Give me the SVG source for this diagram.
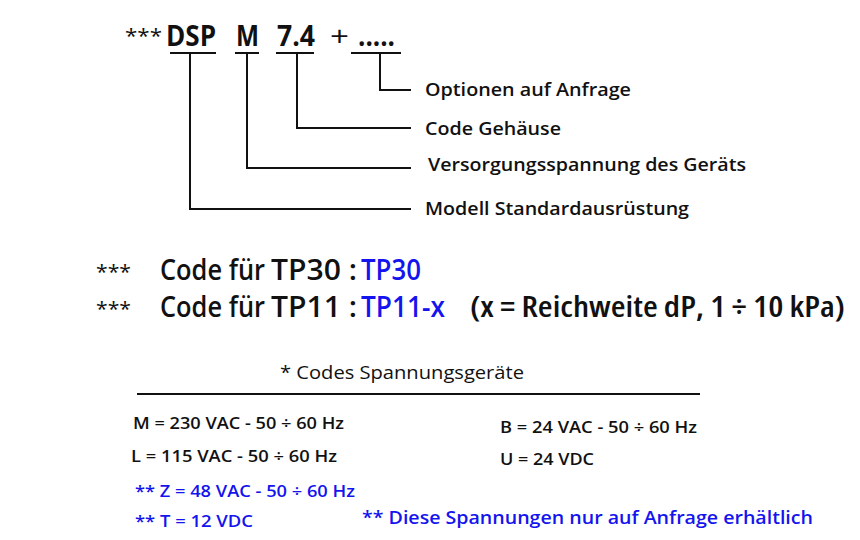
<svg xmlns="http://www.w3.org/2000/svg" width="860" height="540" viewBox="0 0 860 540">
<style>
text{font-family:"Open Sans","Liberation Sans",Arial,sans-serif;fill:#111}
.code{font-size:28px;font-weight:700}
.lbl{font-size:18px;font-weight:600}
.mid{font-size:28px;font-weight:600}
.row{font-size:17px;font-weight:600}
.ast{font-weight:400}
.cond{font-stretch:condensed}
.blue{fill:#1414ee}
.ln{stroke:#111;stroke-width:2;fill:none}
</style>
<rect width="860" height="540" fill="#fff"/>
<g id="code-string">
<text class="ast" x="125" y="43" style="font-size:20px" textLength="37" lengthAdjust="spacingAndGlyphs">***</text>
<text class="code" x="166" y="46" textLength="50" lengthAdjust="spacingAndGlyphs">DSP</text>
<text class="code" x="236" y="46" textLength="23" lengthAdjust="spacingAndGlyphs">M</text>
<text class="code" x="277" y="46" textLength="38" lengthAdjust="spacingAndGlyphs">7.4</text>
<text class="code" x="330" y="46" style="font-weight:400" textLength="19" lengthAdjust="spacingAndGlyphs">+</text>
<text class="code" x="358" y="46" textLength="37" lengthAdjust="spacingAndGlyphs">.....</text>
</g>
<g id="connectors" class="ln">
<line x1="170" y1="53" x2="216" y2="53"/>
<line x1="235" y1="53" x2="259" y2="53"/>
<line x1="276" y1="53" x2="314" y2="53"/>
<line x1="351" y1="53" x2="401" y2="53"/>
<polyline points="380,53 380,90 411,90"/>
<polyline points="297,53 297,128 411,128"/>
<polyline points="247,53 247,168 411,168"/>
<polyline points="190,53 190,209 411,209"/>
</g>
<g id="label-optionen"><text class="lbl" x="425" y="96" textLength="206" lengthAdjust="spacingAndGlyphs">Optionen auf Anfrage</text></g>
<g id="label-gehaeuse"><text class="lbl" x="425" y="135" textLength="136" lengthAdjust="spacingAndGlyphs">Code Gehäuse</text></g>
<g id="label-versorgung"><text class="lbl" x="428" y="171" textLength="318" lengthAdjust="spacingAndGlyphs">Versorgungsspannung des Geräts</text></g>
<g id="label-modell"><text class="lbl" x="425" y="215" textLength="264" lengthAdjust="spacingAndGlyphs">Modell Standardausrüstung</text></g>
<g id="tp30">
<text class="ast" x="96" y="279" style="font-size:20px" textLength="35" lengthAdjust="spacingAndGlyphs">***</text>
<text class="mid" x="160" y="280" textLength="105" lengthAdjust="spacingAndGlyphs">Code für</text>
<text class="mid" x="271" y="280" textLength="86" lengthAdjust="spacingAndGlyphs">TP30 :</text>
<text class="mid blue" x="361" y="280" textLength="60" lengthAdjust="spacingAndGlyphs">TP30</text>
</g>
<g id="tp11">
<text class="ast" x="96" y="316" style="font-size:20px" textLength="35" lengthAdjust="spacingAndGlyphs">***</text>
<text class="mid" x="160" y="317" textLength="105" lengthAdjust="spacingAndGlyphs">Code für</text>
<text class="mid" x="271" y="317" textLength="86" lengthAdjust="spacingAndGlyphs">TP11 :</text>
<text class="mid blue" x="361" y="317" textLength="84" lengthAdjust="spacingAndGlyphs">TP11-x</text>
<text class="mid cond" x="470" y="317" textLength="375" lengthAdjust="spacingAndGlyphs">(x = Reichweite dP, 1 ÷ 10 kPa)</text>
</g>
<g id="voltage-table">
<text x="280" y="379" style="font-size:18px;font-weight:500" textLength="244" lengthAdjust="spacingAndGlyphs">* Codes Spannungsgeräte</text>
<line class="ln" x1="137" y1="394" x2="700" y2="394"/>
<text class="row" x="133" y="429" textLength="211" lengthAdjust="spacingAndGlyphs">M = 230 VAC - 50 ÷ 60 Hz</text>
<text class="row" x="131" y="462" textLength="206" lengthAdjust="spacingAndGlyphs">L = 115 VAC - 50 ÷ 60 Hz</text>
<text class="row" x="500" y="433" textLength="197" lengthAdjust="spacingAndGlyphs">B = 24 VAC - 50 ÷ 60 Hz</text>
<text class="row" x="500" y="465" textLength="94" lengthAdjust="spacingAndGlyphs">U = 24 VDC</text>
<text class="row blue" x="135" y="497" textLength="220" lengthAdjust="spacingAndGlyphs">** Z = 48 VAC - 50 ÷ 60 Hz</text>
<text class="row blue" x="135" y="527" textLength="118" lengthAdjust="spacingAndGlyphs">** T = 12 VDC</text>
<text class="row blue" x="362" y="524" style="font-size:18px" textLength="451" lengthAdjust="spacingAndGlyphs">** Diese Spannungen nur auf Anfrage erhältlich</text>
</g>
</svg>
